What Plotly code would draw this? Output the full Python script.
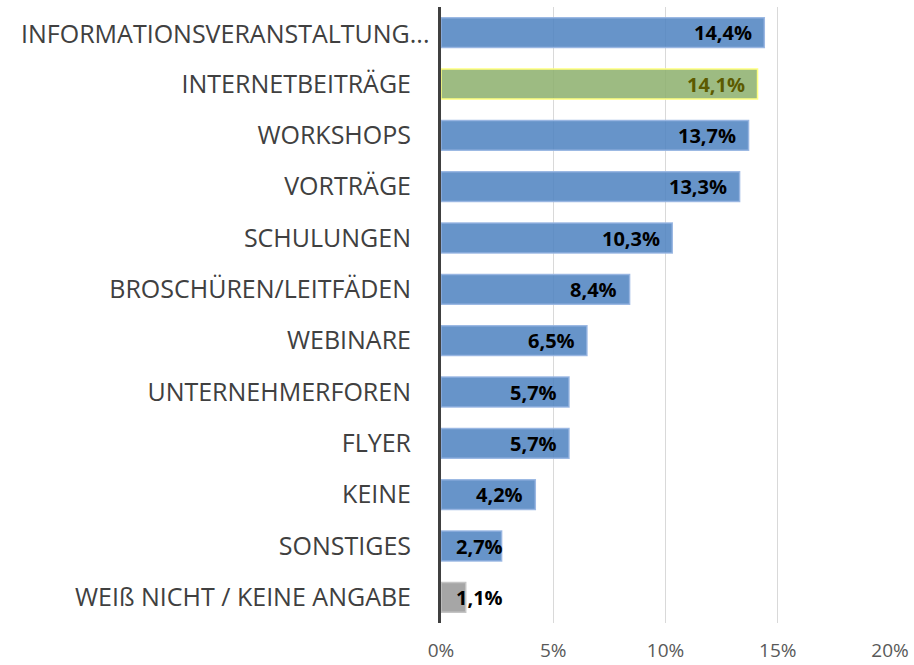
import plotly.graph_objects as go

categories = ["INFORMATIONSVERANSTALTUNG...", "INTERNETBEITRÄGE", "WORKSHOPS", "VORTRÄGE",
              "SCHULUNGEN", "BROSCHÜREN/LEITFÄDEN", "WEBINARE", "UNTERNEHMERFOREN",
              "FLYER", "KEINE", "SONSTIGES", "WEIß NICHT / KEINE ANGABE"]
values = [14.4, 14.1, 13.7, 13.3, 10.3, 8.4, 6.5, 5.7, 5.7, 4.2, 2.7, 1.1]
labels = ["14,4%", "14,1%", "13,7%", "13,3%", "10,3%", "8,4%", "6,5%", "5,7%", "5,7%", "4,2%", "2,7%", "1,1%"]
tick_vals = [0, 5, 10, 15, 20]
tick_text = ["0%", "5%", "10%", "15%", "20%"]

fill = ["rgba(76,129,191,0.85)"] * 12
line = ["rgba(150,180,225,0.9)"] * 12
fill[1] = "rgba(140,175,108,0.85)"; line[1] = "#ffff80"
fill[11] = "rgba(150,150,150,0.85)"; line[11] = "#c4c4c4"
text_col = ["#000000"] * 12
text_col[1] = "#5c5a00"

cat_font = dict(family="Open Sans", size=25, color="#404040")

fig = go.Figure()
fig.add_trace(go.Bar(
    y=categories, x=values, orientation="h",
    marker=dict(color=fill, line=dict(color=line, width=1.5)),
    width=0.58, hoverinfo="skip", showlegend=False,
))
for cat, v, lab, col in zip(categories, values, labels, text_col):
    fig.add_annotation(
        x=max(v - 0.45, 2.85), y=cat, text="<b>" + lab + "</b>", showarrow=False,
        xanchor="right", yanchor="middle", xshift=0, yshift=0,
        font=dict(family="Open Sans", size=20, color=col),
    )
# first (truncated) category label sits slightly further right, as in the original
fig.add_annotation(
    x=0, xref="paper", y=categories[0], text=categories[0], showarrow=False,
    xanchor="right", yanchor="middle", xshift=-9, font=cat_font,
)
fig.update_layout(
    width=914, height=665,
    margin=dict(l=441, r=24, t=7, b=42),
    plot_bgcolor="white", paper_bgcolor="white",
    xaxis=dict(range=[0, 20], tickvals=tick_vals, ticktext=tick_text,
               showgrid=True, gridcolor="#d9d9d9", gridwidth=1.3, zeroline=False,
               tickfont=dict(family="Open Sans", size=19, color="#595959"),
               ticks="", ticklabelstandoff=14, automargin=False, fixedrange=True),
    yaxis=dict(categoryorder="array", categoryarray=categories[::-1],
               tickvals=categories, ticktext=[""] + categories[1:],
               showline=True, linecolor="#404040", linewidth=3,
               tickfont=cat_font,
               ticks="", ticklabelstandoff=22, automargin=False, fixedrange=True),
)
fig.write_html("out.html")
